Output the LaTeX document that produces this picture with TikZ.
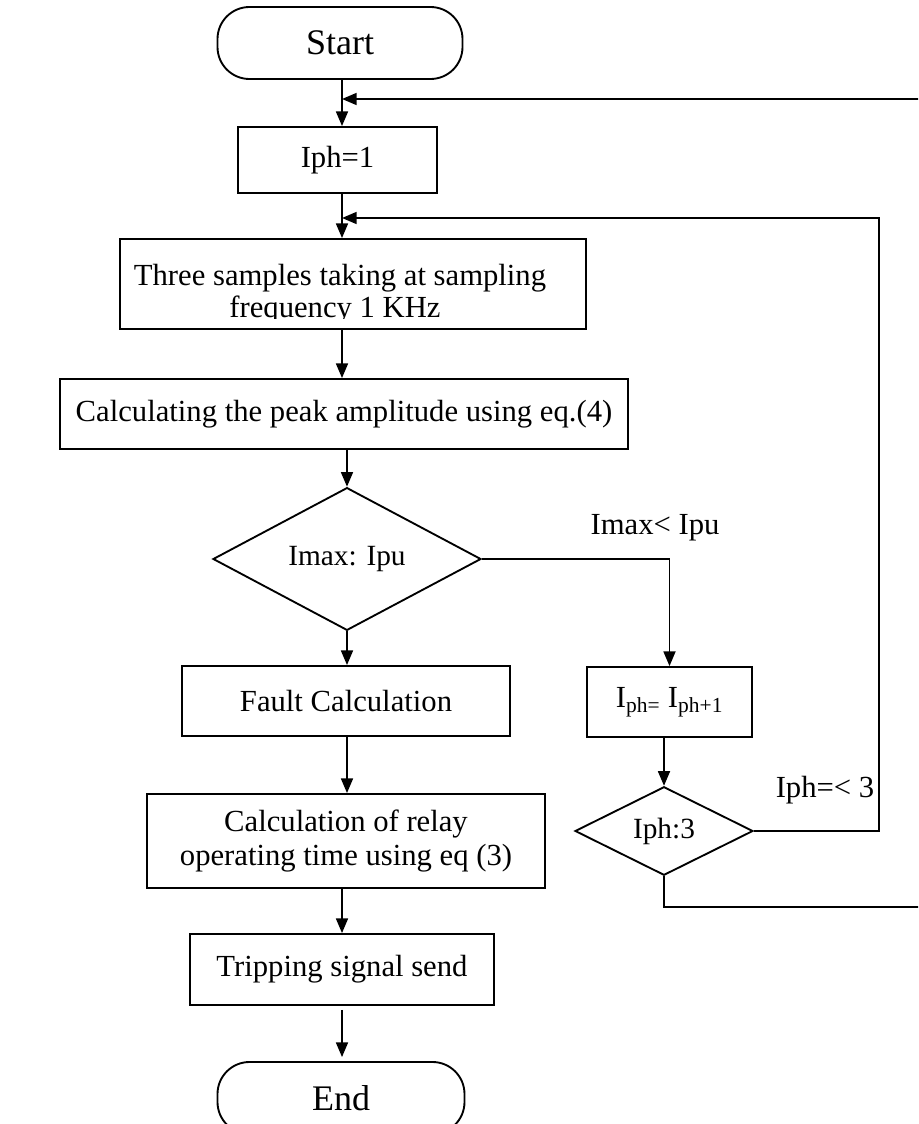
\documentclass[tikz,border=0pt]{standalone}
\usepackage{fontspec}
\setmainfont{Liberation Serif}
\usetikzlibrary{arrows.meta,shapes.geometric,calc}

\begin{document}
\begin{tikzpicture}[x=0.75pt,y=-0.75pt,
  txt/.style={font=\fontsize{23}{26}\selectfont,inner sep=0pt,align=center},
  box/.style={draw,line width=1.4pt,inner sep=0pt,align=center,font=\fontsize{23}{26}\selectfont},
  term/.style={box,rounded corners=24pt,font=\fontsize{27}{30}\selectfont},
  decision/.style={draw,line width=1.4pt,diamond,inner sep=0pt,font=\fontsize{22}{26}\selectfont},
  link/.style={line width=1.3pt},
  arr/.style={link,-{Triangle[length=11pt,width=9pt]}}
]
\useasboundingbox (0,0) rectangle (918,1124);
\clip (0,0) rectangle (918,1124);

% main column
\node[term,minimum width={245*0.75pt},minimum height={72*0.75pt}] (start) at (340,43) {Start};
\node[box,minimum width={199*0.75pt},minimum height={66*0.75pt}] (iph1) at (337.5,160) {Iph=1};
\node[box,minimum width={466*0.75pt},minimum height={90*0.75pt}] (samples) at (353,284) {};
\begin{scope}
  \clip ($(samples.north west)+(2,2)$) rectangle ($(samples.east)+(-2,34)$);
  \node[txt,anchor=base] (s1) at (340,285) {Three samples taking at sampling};
  \node[txt,anchor=base] (s2) at (335,317) {frequency 1 KHz};
\end{scope}
\node[box,minimum width={568*0.75pt},minimum height={70*0.75pt}] (peak) at (344,414) {Calculating the peak amplitude using eq.(4)};
\node[decision,minimum width={268*0.75pt},minimum height={108*0.75pt}] (d1) at (347,559) {Imax: Ipu};
\node[box,minimum width={328*0.75pt},minimum height={70*0.75pt}] (fault) at (346,701) {Fault Calculation};
\node[box,minimum width={398*0.75pt},minimum height={94*0.75pt}] (relay) at (346,841) {Calculation of relay\\operating time using eq (3)};
\node[box,minimum width={304*0.75pt},minimum height={71*0.75pt}] (trip) at (342,969.5) {Tripping signal send};
\node[term,minimum width={247*0.75pt},minimum height={72*0.75pt}] (end) at (341,1098) {End};

% side branch
\node[box,minimum width={165*0.75pt},minimum height={70*0.75pt}] (next) at (669.5,702) {I\textsubscript{ph=} I\textsubscript{ph+1}};
\node[decision,minimum width={178*0.75pt},minimum height={88*0.75pt}] (d2) at (664,831) {Iph:3};

% labels
\node[txt] (lbl1) at (655,528) {Imax< Ipu};
\node[txt] (lbl2) at (825,790) {Iph=< 3};

% junctions on the main line and loop corners
\coordinate (cA) at (342,0);
\coordinate (cB) at (347,0);
\coordinate (jA) at (342,99);
\coordinate (jB) at (342,218);
\coordinate (rB) at (879,218);
\coordinate (bA) at (930,907);
\coordinate (rA) at (930,99);

% main flow
\draw[arr] (start.south -| cA) -- (iph1.north -| cA);
\draw[arr] (iph1.south -| cA) -- (samples.north -| cA);
\draw[arr] (samples.south -| cA) -- (peak.north -| cA);
\draw[arr] (peak.south -| cB) -- (d1.north);
\draw[arr] (d1.south) -- (fault.north -| cB);
\draw[arr] (fault.south -| cB) -- (relay.north -| cB);
\draw[arr] (relay.south -| cA) -- (trip.north -| cA);
\draw[arr] ($(trip.south -| cA)+(0,4)$) -- ($(end.north -| cA)+(0,-4)$);

% branch flow
\draw[arr] (d1.east) -| (next.north);
\draw[arr] (next.south -| d2.north) -- (d2.north);
\draw[arr] (d2.east) -| (rB) -- (jB);
\draw[arr] (d2.south) |- (bA) -- (rA) -- (jA);
\end{tikzpicture}
\end{document}
